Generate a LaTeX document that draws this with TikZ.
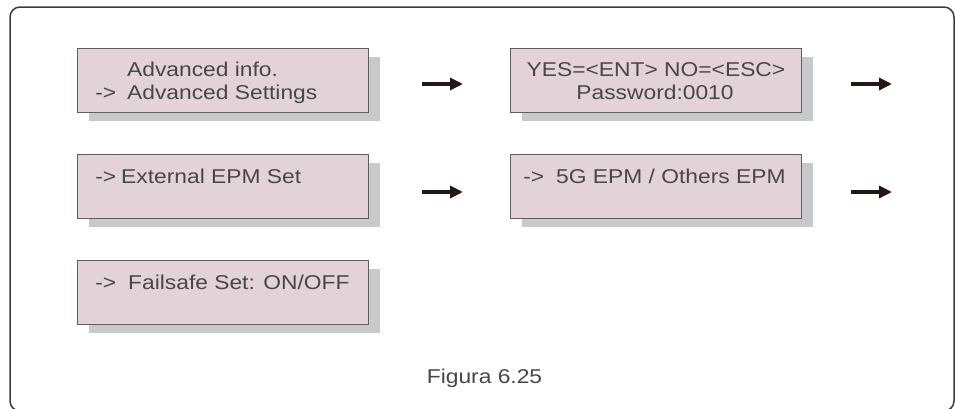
\documentclass[tikz,border=0pt]{standalone}
\usepackage{fontspec}
\newfontfamily\lcdfont[FakeStretch=1.14]{Liberation Sans}
\usetikzlibrary{arrows.meta,shadows}
\definecolor{boxfill}{HTML}{E3D3D8}
\definecolor{boxline}{HTML}{5E5E5E}
\definecolor{shadowc}{HTML}{C8C9CB}
\definecolor{txt}{HTML}{474747}
\definecolor{arrowc}{HTML}{231815}
\definecolor{framec}{HTML}{3C3C3C}
\newcommand{\arrw}[1]{\llap{->\hspace{#1}}}
\begin{document}
\begin{tikzpicture}[x=1pt,y=-1pt,
  screen/.style={draw=boxline, line width=1.3pt, fill=boxfill,
    minimum width=291pt, minimum height=64pt, inner sep=0pt, anchor=north west,
    drop shadow={shadow xshift=11pt, shadow yshift=-8pt, fill=shadowc, opacity=1, draw=none}},
  lcd/.style={font=\lcdfont\fontsize{20}{24}\selectfont, text=txt, inner sep=0pt},
  nav/.style={draw=arrowc, line width=4pt, -{Triangle[length=13pt,width=12pt]}}
]
\useasboundingbox (0,0) rectangle (955,408);
\draw[framec, line width=1.5pt, rounded corners=10pt] (10,7) rectangle (954,411);

\node[screen] (b1) at (77,48) {};
\node[screen] (b2) at (510,48) {};
\node[screen] (b3) at (77,154) {};
\node[screen] (b4) at (510,154) {};
\node[screen] (b5) at (77,260) {};

\node[lcd, anchor=base west] (t1a) at (127,76) {Advanced info.};
\node[lcd, anchor=base west] (t1b) at (127,99) {\arrw{11pt}Advanced Settings};
\node[lcd, anchor=base] (t2a) at (656,76) {YES=<ENT> NO=<ESC>};
\node[lcd, anchor=base] (t2b) at (655,99) {Password:0010};
\node[lcd, anchor=base west] (t3) at (121,183) {\arrw{5pt}External EPM Set};
\node[lcd, anchor=base west] (t4) at (556,183) {\arrw{12pt}5G EPM / Others EPM};
\node[lcd, anchor=base west] (t5) at (128,289) {\arrw{12pt}Failsafe Set: ON/OFF};

\coordinate (a1s) at (422,84); \coordinate (a1e) at (463,84);
\coordinate (a2s) at (851,84); \coordinate (a2e) at (892,84);
\coordinate (a3s) at (422,192); \coordinate (a3e) at (463,192);
\coordinate (a4s) at (851,192); \coordinate (a4e) at (892,192);
\draw[nav] (a1s) -- (a1e);
\draw[nav] (a2s) -- (a2e);
\draw[nav] (a3s) -- (a3e);
\draw[nav] (a4s) -- (a4e);

\node[lcd, anchor=base] (cap) at (484.5,383) {Figura 6.25};
\end{tikzpicture}
\end{document}
